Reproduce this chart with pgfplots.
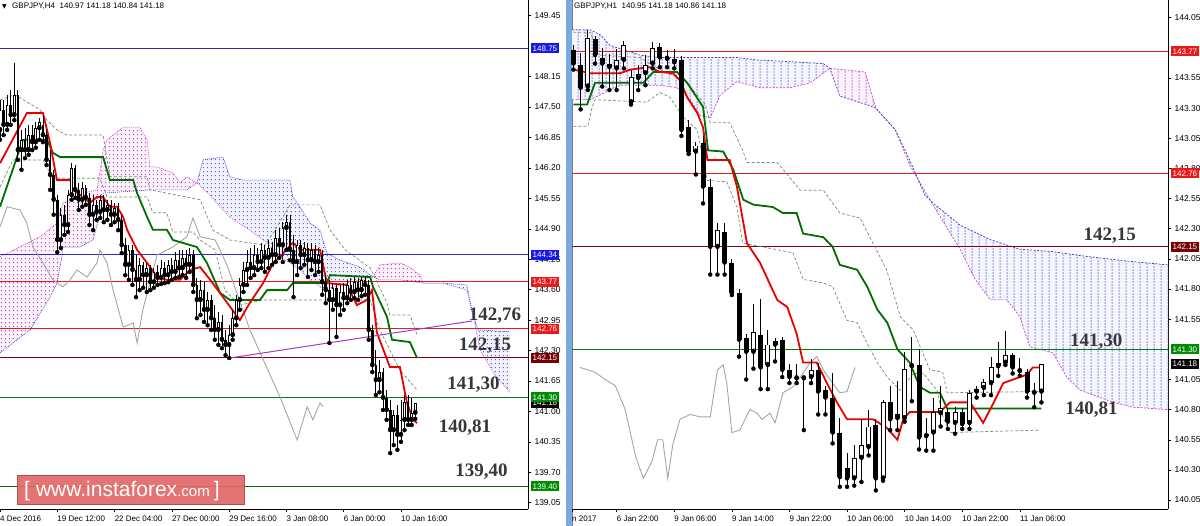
\documentclass[border=0pt]{standalone}
\usepackage{fontspec}
\setmainfont{Liberation Sans}
\newfontfamily\serifb{Liberation Serif}
\newfontfamily\dejavu{DejaVu Sans}
\usepackage{pgfplots}
\usepackage{pgfplotstable}
\pgfplotsset{compat=1.18}
\usetikzlibrary{patterns}

\definecolor{lvblue}{RGB}{50,40,190}
\definecolor{lvred}{RGB}{225,30,30}
\definecolor{lvdred}{RGB}{128,0,32}
\definecolor{lvgreen}{RGB}{0,128,0}
\definecolor{boxblue}{RGB}{25,25,230}
\definecolor{boxred}{RGB}{235,25,25}
\definecolor{boxdred}{RGB}{120,0,0}
\definecolor{boxgreen}{RGB}{0,140,0}
\definecolor{kumopink}{RGB}{200,70,200}
\definecolor{kumoblue}{RGB}{60,60,200}
\definecolor{kumodotb}{RGB}{95,95,235}
\definecolor{tenkan}{RGB}{235,0,0}
\definecolor{kijun}{RGB}{0,110,0}
\definecolor{chikou}{RGB}{165,165,165}
\definecolor{band}{RGB}{110,145,110}
\definecolor{trend}{RGB}{160,60,200}
\definecolor{annot}{RGB}{55,55,55}
\definecolor{sepblue}{RGB}{120,170,225}
\definecolor{wmred}{RGB}{226,104,104}

\pgfdeclarepatterninherentlycolored{ldotsP}{\pgfqpoint{0pt}{0pt}}{\pgfqpoint{3.6pt}{3.7pt}}{\pgfqpoint{3.6pt}{3.7pt}}{\pgfsetfillcolor{kumopink}\pgfpathrectangle{\pgfqpoint{1pt}{1pt}}{\pgfqpoint{1.05pt}{1.05pt}}\pgfusepath{fill}}
\pgfdeclarepatterninherentlycolored{ldotsB}{\pgfqpoint{0pt}{0pt}}{\pgfqpoint{3.6pt}{3.7pt}}{\pgfqpoint{3.6pt}{3.7pt}}{\pgfsetfillcolor{kumodotb}\pgfpathrectangle{\pgfqpoint{1pt}{1pt}}{\pgfqpoint{1.05pt}{1.05pt}}\pgfusepath{fill}}
\pgfdeclarepatterninherentlycolored{rdotsP}{\pgfqpoint{0pt}{0pt}}{\pgfqpoint{7.2pt}{3pt}}{\pgfqpoint{7.2pt}{3pt}}{\pgfsetfillcolor{kumopink}\pgfpathrectangle{\pgfqpoint{3pt}{0.5pt}}{\pgfqpoint{1.1pt}{1.6pt}}\pgfusepath{fill}}
\pgfdeclarepatterninherentlycolored{rdotsB}{\pgfqpoint{0pt}{0pt}}{\pgfqpoint{7.2pt}{3pt}}{\pgfqpoint{7.2pt}{3pt}}{\pgfsetfillcolor{kumodotb}\pgfpathrectangle{\pgfqpoint{3pt}{0.5pt}}{\pgfqpoint{1.1pt}{1.6pt}}\pgfusepath{fill}}

\tikzset{lbox/.style={anchor=west, xshift=2.5pt, text=white, font=\fontsize{8}{8}\selectfont, inner xsep=2pt, inner ysep=1.2pt, minimum height=10pt},
  annot/.style={anchor=base, font=\serifb\bfseries\fontsize{19}{19}\selectfont, text=annot, inner sep=0pt}}

\begin{document}
% ---------- left panel (H4) ----------
\pgfplotstableread{
b o h l c
0 147.01 147.65 146.80 147.44
1 147.44 147.65 146.90 147.12
2 147.12 147.76 147.01 147.54
3 147.54 147.86 147.12 147.33
4 147.33 148.44 147.22 147.76
5 147.76 147.86 146.37 146.58
6 146.58 147.01 146.16 146.80
7 146.80 147.05 146.41 146.58
8 146.58 147.12 146.48 146.90
9 146.90 147.12 146.58 146.75
10 146.75 147.18 146.63 147.05
11 147.05 147.27 146.80 147.18
12 147.12 147.31 146.75 146.90
13 146.90 147.01 146.26 146.37
14 146.37 146.58 145.73 146.05
15 146.05 146.16 145.20 145.52
16 145.52 145.62 144.40 144.66
17 144.66 145.34 144.49 145.20
18 145.20 145.41 144.77 144.98
19 144.98 145.73 144.83 145.62
20 145.62 146.30 145.52 146.20
21 146.20 146.26 145.56 145.73
22 145.73 145.88 145.30 145.52
23 145.52 145.90 145.37 145.77
24 145.77 145.84 145.41 145.56
25 145.56 145.66 144.98 145.20
26 145.20 145.62 144.87 145.41
27 145.41 145.52 145.09 145.26
28 145.26 145.62 145.13 145.52
29 145.52 145.62 145.04 145.30
30 145.30 145.52 145.09 145.41
31 145.41 145.52 144.98 145.20
32 145.20 145.45 145.04 145.34
33 145.34 145.45 144.87 145.09
34 145.09 145.20 144.38 144.55
35 144.55 144.70 143.91 144.13
36 144.13 144.55 143.81 144.45
37 144.45 144.55 143.70 144.02
38 144.02 144.34 143.44 143.81
39 143.81 144.28 143.59 144.13
40 144.13 144.19 143.64 143.91
41 143.91 144.17 143.55 144.06
42 144.06 144.13 143.59 143.76
43 143.76 144.06 143.64 143.98
44 143.98 144.13 143.70 143.85
45 143.85 144.23 143.72 144.06
46 144.06 144.19 143.74 143.91
47 143.91 144.23 143.76 144.13
48 144.13 144.28 143.81 143.98
49 143.98 144.40 143.85 144.23
50 144.23 144.45 143.87 144.06
51 144.06 144.45 143.91 144.28
52 144.28 144.45 143.85 144.13
53 144.13 144.49 143.98 144.34
54 144.34 144.45 143.55 143.70
55 143.70 143.85 142.99 143.38
56 143.38 143.81 143.06 143.59
57 143.59 143.76 142.91 143.17
58 143.17 143.55 142.84 143.38
59 143.38 143.49 142.74 142.99
60 142.99 143.27 142.53 142.74
61 142.74 143.12 142.42 142.91
62 142.91 143.06 142.35 142.53
63 142.53 142.74 142.20 142.42
64 142.42 142.84 142.14 142.63
65 142.63 143.17 142.53 142.99
66 142.99 143.49 142.84 143.38
67 143.38 143.85 143.17 143.70
68 143.70 144.19 143.55 144.02
69 144.02 144.45 143.70 144.19
70 144.19 144.49 143.85 144.06
71 144.06 144.55 143.91 144.34
72 144.34 144.49 144.02 144.19
73 144.19 144.60 144.06 144.45
74 144.45 144.55 143.98 144.28
75 144.28 144.66 144.06 144.49
76 144.49 144.62 144.13 144.34
77 144.34 144.87 144.19 144.70
78 144.70 144.92 144.28 144.55
79 144.55 145.04 144.19 144.92
80 144.92 145.20 144.45 145.04
81 145.04 145.20 144.23 144.45
82 144.45 144.77 143.44 144.19
83 144.19 144.66 143.91 144.55
84 144.55 144.66 144.06 144.34
85 144.34 144.62 144.13 144.49
86 144.49 144.60 143.87 144.23
87 144.23 144.60 144.02 144.45
88 144.45 144.55 143.91 144.19
89 144.19 144.49 143.98 144.34
90 144.34 144.45 143.49 143.76
91 143.76 143.91 143.31 143.59
92 143.59 143.81 142.46 143.38
93 143.38 143.74 143.17 143.64
94 143.64 143.70 142.59 143.27
95 143.27 143.70 143.06 143.55
96 143.55 143.74 143.17 143.42
97 143.42 143.81 143.31 143.70
98 143.70 143.85 143.38 143.55
99 143.55 143.87 143.42 143.76
100 143.76 143.85 143.38 143.59
101 143.59 143.87 143.46 143.81
102 143.81 143.89 143.49 143.70
103 143.70 143.81 142.53 142.74
104 142.74 142.84 141.84 141.99
105 141.99 142.31 141.35 141.67
106 141.67 142.10 141.41 141.84
107 141.84 141.93 141.03 141.29
108 141.29 141.46 140.82 141.03
109 141.03 141.24 140.11 140.60
110 140.60 141.03 140.28 140.92
111 140.92 141.14 140.18 140.50
112 140.50 141.24 140.35 140.82
113 140.82 141.35 140.60 141.20
114 141.20 141.35 140.71 140.82
115 140.82 141.29 140.71 140.97
116 140.97 141.18 140.84 141.18
}\LC

\pgfplotstableread{
b p
0 144.30
11.2 144.73
15.9 145.02
17.6 145.45
23.2 145.66
27.1 145.73
28.8 146.58
29.9 146.80
34.4 147.07
39.1 147.07
41.1 146.80
41.9 146.22
43.9 146.22
48.3 146.09
50.3 145.88
52.2 146.01
55 145.88
58.7 145.62
61.5 145.37
64.2 145.15
69.8 144.87
74.6 144.60
78.2 144.30
81 144.17
83.8 144.02
86.6 143.81
89.4 143.66
91.3 143.59
95 143.70
100.6 143.81
104.2 143.87
106.1 144.13
111.7 144.17
114.5 144.08
117.3 143.91
118.2 143.74
123.7 143.74
130.4 143.59
132.7 142.85
134.1 142.31
138.3 141.78
142.5 141.40
}\LA

\pgfplotstableread{
b p
0 142.25
8.4 142.74
14 143.44
15.9 143.74
17.3 144.30
17.6 144.51
22.3 144.51
26 144.66
27.9 145.20
28.8 145.66
41.9 145.73
52.2 145.73
55 145.88
56.7 146.37
62.3 146.43
64.2 146.01
67.9 145.94
81 145.94
81.8 145.58
83.8 145.37
86.6 145.02
89.4 144.87
91.3 144.38
95 144.23
100.6 144.08
104.2 143.87
106.1 143.81
111.7 143.81
118.2 143.74
123.7 143.74
130.4 143.70
131.8 143.17
133.5 142.74
142.5 142.70
}\LB

\pgfplotstableread{
b p
0 146.30
7.5 147.37
12 147.37
14 146.73
15.9 145.94
19.6 145.94
20.4 145.73
23.2 145.58
25.1 145.45
27.1 145.58
28.8 145.58
30.7 145.37
32.7 145.37
34.4 145.15
35.5 144.88
38.3 144.45
41.1 144.17
43.9 143.87
46.6 143.81
50.3 143.81
53.1 144.02
55.9 144.08
58.7 143.81
62.3 143.44
67 142.95
69.8 143.32
73.5 143.74
76.3 144.17
78.2 144.30
81.8 144.60
83.8 144.45
89.4 144.45
91.3 143.74
96.9 143.70
99.7 143.27
102.5 143.38
103.9 143.59
105.3 142.68
108.9 141.95
111.7 141.95
113.7 141.18
115.4 140.82
116.5 140.75
}\LT

\pgfplotstableread{
b p
0 145.37
6.4 146.80
13.1 146.80
14.8 146.52
16.8 146.43
28.8 146.43
30.7 145.94
37.2 145.94
38.3 145.66
41.1 145.15
42.7 144.88
46.6 144.88
48.3 144.66
55 144.51
57.8 144.17
61.5 143.53
64.2 143.38
72.6 143.38
74.6 143.59
80.2 143.59
81.8 143.74
91.3 143.74
92.2 143.91
103.4 143.87
104.2 143.66
108.1 143.02
109.5 142.53
114.5 142.48
116.5 142.14
}\LK

\pgfplotstableread{
b p
0 144.94
2 145.37
5.6 145.30
7.5 145.02
9.2 144.51
12 144.17
14.8 143.81
17.6 143.66
19.6 143.81
21.5 144.02
24.3 143.87
27.1 144.17
27.9 144.45
29.9 144.17
31.6 143.59
34.4 142.80
37.2 142.89
38.3 142.46
39.9 143.17
43.9 144.34
48.3 144.51
52.2 144.73
53.9 145.13
55.9 144.73
60.1 144.66
63.4 144.13
69.8 142.74
78.2 141.31
83 140.39
85.8 141.10
87.4 140.82
89.4 141.18
90.2 141.10
}\LCH

\pgfplotstableread{
b p
0 147.65
4.2 147.76
11.2 147.44
13.1 147.22
15.9 147.01
18.7 146.90
28.8 146.90
30.7 146.01
41.1 146.01
41.9 145.73
55.9 145.52
59.5 144.87
64.2 144.66
74 144.55
76.8 144.87
81 145.41
89.4 145.41
92.2 144.87
96.4 144.45
103.4 144.06
108.1 143.32
108.9 143.06
114.5 143.06
116.5 142.63
}\LU

\pgfplotstableread{
b p
0 145.79
3.6 146.37
12 146.37
14.8 145.98
27.9 145.98
29.9 145.58
41.1 145.58
42.7 145.24
46.6 145.24
48.3 144.83
53.9 144.83
55.9 144.66
60.1 144.45
62.8 143.59
67 143.27
73.5 143.38
103.4 143.38
106.1 142.74
111.7 141.88
116.5 141.46
}\LD

% ---------- right panel (H1) ----------
\pgfplotstableread{
b o h l c
0 143.78 143.82 143.62 143.67
1 143.66 143.76 143.29 143.47
2 143.48 143.95 143.45 143.88
3 143.87 143.90 143.67 143.74
4 143.72 143.80 143.48 143.67
5 143.67 143.75 143.45 143.64
6 143.63 143.79 143.45 143.70
7 143.70 143.86 143.63 143.82
8 143.35 143.62 143.33 143.56
9 143.55 143.66 143.45 143.58
10 143.59 143.74 143.49 143.66
11 143.67 143.85 143.63 143.80
12 143.81 143.84 143.64 143.72
13 143.72 143.78 143.64 143.71
14 143.71 143.79 143.63 143.68
15 143.70 143.73 143.07 143.12
16 143.14 143.20 142.92 142.94
17 142.94 143.02 142.75 142.99
18 143.01 143.07 142.51 142.65
19 142.65 142.71 141.92 142.15
20 142.15 142.35 141.92 142.29
21 142.27 142.35 141.92 142.02
22 142.02 142.05 141.75 141.77
23 141.77 141.80 141.24 141.38
24 141.39 141.43 141.05 141.28
25 141.28 141.68 141.14 141.44
26 141.42 141.72 140.97 141.15
27 141.17 141.46 140.97 141.34
28 141.34 141.39 141.20 141.37
29 141.38 141.40 141.07 141.13
30 141.13 141.18 141.02 141.07
31 141.07 141.18 141.02 141.06
32 141.07 141.08 140.63 141.06
33 141.07 141.22 141.02 141.13
34 141.13 141.19 140.76 140.95
35 140.96 141.00 140.76 140.90
36 140.90 141.10 140.52 140.61
37 140.61 140.73 140.16 140.24
38 140.32 140.44 140.16 140.23
39 140.23 140.51 140.17 140.40
40 140.40 140.72 140.20 140.51
41 140.49 140.80 140.42 140.66
42 140.67 140.72 140.13 140.23
43 140.23 140.88 140.21 140.86
44 140.86 141.00 140.63 140.72
45 140.73 141.04 140.63 140.76
46 140.73 141.28 140.70 141.14
47 141.17 141.40 140.87 141.16
48 141.17 141.30 140.47 140.57
49 140.58 140.73 140.46 140.60
50 140.61 140.90 140.46 140.78
51 140.77 141.00 140.66 140.81
52 140.78 140.81 140.64 140.70
53 140.69 140.82 140.60 140.78
54 140.78 140.81 140.64 140.68
55 140.69 140.96 140.64 140.94
56 140.95 141.00 140.90 140.97
57 140.98 141.05 140.92 141.03
58 141.02 141.24 140.92 141.15
59 141.16 141.36 141.08 141.19
60 141.19 141.45 141.17 141.25
61 141.25 141.27 141.10 141.15
62 141.13 141.23 141.08 141.12
63 141.11 141.14 140.90 140.95
64 140.95 141.02 140.82 140.94
65 140.95 141.18 140.86 141.18
}\RC

\pgfplotstableread{
b p
-0.2 143.37
2.3 143.37
3.7 143.41
6.5 143.49
12 143.49
14.4 143.47
16.2 143.37
17.6 143.24
19 143.22
20.4 143.41
22.7 143.52
25.9 143.47
30.1 143.47
32.9 143.51
35.6 143.63
40.5 143.60
42 143.30
44.7 143.12
46.7 142.83
49.5 142.54
53.7 142.13
55.8 141.88
57.9 141.71
60.2 141.71
62 141.57
63.4 141.32
66.6 141.27
68.5 141.07
70.4 140.96
75 140.86
77.7 140.82
82.58 140.80
}\RA

\pgfplotstableread{
b p
-0.2 143.95
2.3 143.95
3.7 143.91
5.1 143.82
7.2 143.78
9.2 143.74
12 143.72
14.4 143.72
22.7 143.72
25.5 143.70
34.7 143.67
35.6 143.63
37 143.40
41.2 143.32
42 143.30
44.7 143.12
46.7 142.87
48.8 142.58
50.2 142.50
53.7 142.33
57.9 142.21
62 142.13
66.6 142.11
71.3 142.07
77.3 142.03
82.58 142.00
}\RB

\pgfplotstableread{
b p
0 143.62
2.3 143.59
6.5 143.59
7.9 143.62
10.6 143.64
12 143.60
13.8 143.59
14.8 143.53
15.8 143.39
17.2 143.26
18 143.14
18.6 142.87
21.7 142.87
22.7 142.65
24.1 142.18
25.9 142.02
28.3 141.71
29.7 141.65
31 141.43
31.9 141.19
33.8 141.19
35.2 141.02
36.6 140.86
38 140.72
41.6 140.72
43.5 140.65
45 140.55
45.8 140.72
46.7 140.78
50.9 140.78
52.3 140.86
55.1 140.86
56.9 140.69
58.3 140.85
59.7 141.02
62 141.07
63 141.09
63.8 141.15
65 141.15
}\RT

\pgfplotstableread{
b p
0 143.33
1.9 143.33
3 143.51
9.7 143.51
11.1 143.60
14.4 143.60
15.8 143.51
18 143.31
18.7 142.95
20.8 142.94
22.2 142.79
23.6 142.54
25 142.50
27.7 142.48
29.1 142.43
31 142.43
31.9 142.26
34.7 142.23
36 142.15
37 142.00
39.4 141.96
40.8 141.82
42.2 141.63
43.6 141.52
45 141.30
46.7 141.19
48.1 140.99
49.5 140.94
50.9 140.94
51.9 140.81
65 140.81
}\RK

\pgfplotstableread{
b p
0 143.93
2.3 143.93
3.7 143.74
9.2 143.72
12 143.62
15.5 143.53
18.3 143.33
19 143.18
21.7 143.18
23.5 142.95
24.1 142.85
28.3 142.85
31.5 142.62
34.7 142.62
37 142.43
39.8 142.39
41.6 142.18
43.5 141.96
45.4 141.57
47.2 141.46
49.5 141.13
51.3 141.11
51.9 140.94
64.8 140.95
}\RU

\pgfplotstableread{
b p
0 143.15
2 143.15
2.6 143.31
3 143.37
10.2 143.35
12 143.43
13.4 143.39
15.2 143.23
17.2 143.12
18.6 142.70
21.3 142.69
22.7 142.48
23.5 142.18
26.3 142.15
30.5 142.10
31.9 141.88
34.7 141.85
36 141.82
38 141.54
39.4 141.52
40.8 141.35
42.2 141.19
43.6 141.07
45.4 140.96
47.2 141.10
48.6 141.10
50.5 140.96
51.3 140.74
52.3 140.61
64.8 140.63
}\RD

\pgfplotstableread{
b p
0.9 141.15
3 141.11
4.4 141.05
5.8 141.00
7.2 140.80
8.6 140.42
9.7 140.23
10.9 140.37
11.7 140.55
12.4 140.55
13.1 140.23
13.8 140.51
14.8 140.72
16.2 140.76
17.6 140.74
19 140.74
20 141.13
20.8 141.17
21.3 141.02
22 140.61
23.1 140.63
24.5 140.80
25.5 140.77
26.2 140.72
27.3 140.77
28 140.69
29.1 140.94
30.5 140.99
31.5 141.07
32.9 141.19
33.8 141.24
34.7 141.13
36 141.02
37 140.94
38 140.95
39.1 141.15
}\RCH

\begin{tikzpicture}

% ================= LEFT AXIS =================
\begin{axis}[
  at={(0pt,17pt)}, anchor=south west, scale only axis,
  width=528pt, height=509pt,
  xmin=0, xmax=147.49, ymin=138.916, ymax=149.785,
  axis x line*=bottom, axis y line*=right,
  axis line style={-, black, line width=0.6pt},
  xtick pos=left, ytick pos=right, yticklabel pos=right, xticklabel pos=left,
  tick align=outside, major tick length=3pt, tick style={black, line width=0.5pt},
  ytick={139.05,139.70,140.35,141.00,141.65,142.30,142.95,143.60,144.25,144.90,145.55,146.20,146.85,147.50,148.15,149.45},
  scaled y ticks=false,
  yticklabel style={font=\fontsize{8.5}{9}\selectfont, /pgf/number format/fixed, /pgf/number format/fixed zerofill, /pgf/number format/precision=2, /pgf/number format/assume math mode=true},
  xtick={0,16,32,48,64,80,96,112},
  xticklabels={4 Dec 2016,19 Dec 12:00,22 Dec 04:00,27 Dec 00:00,29 Dec 16:00,3 Jan 08:00,6 Jan 00:00,10 Jan 16:00},
  xticklabel style={font=\fontsize{8}{9}\selectfont, anchor=north west, inner xsep=0pt},
  clip=false,
]
% cloud (kumo) areas, each a closed polygon between Senkou A and Senkou B
\addplot[draw=none, fill=kumopink!7, forget plot] coordinates {
(0,144.30) (11.2,144.73) (15.9,145.02) (17.6,145.45) (23.2,145.66) (27.1,145.73) (28.8,146.58) (29.9,146.80) (34.4,147.07) (39.1,147.07) (41.1,146.80) (41.9,146.22) (43.9,146.22) (48.3,146.09) (50.3,145.88) (52.2,146.01) (55,145.88)
(52.2,145.73) (41.9,145.73) (28.8,145.66) (27.9,145.20) (26,144.66) (22.3,144.51) (17.6,144.51) (17.3,144.30) (15.9,143.74) (14,143.44) (8.4,142.74) (0,142.25) (0,144.30)};
\addplot[draw=none, pattern=ldotsP, forget plot] coordinates {
(0,144.30) (11.2,144.73) (15.9,145.02) (17.6,145.45) (23.2,145.66) (27.1,145.73) (28.8,146.58) (29.9,146.80) (34.4,147.07) (39.1,147.07) (41.1,146.80) (41.9,146.22) (43.9,146.22) (48.3,146.09) (50.3,145.88) (52.2,146.01) (55,145.88)
(52.2,145.73) (41.9,145.73) (28.8,145.66) (27.9,145.20) (26,144.66) (22.3,144.51) (17.6,144.51) (17.3,144.30) (15.9,143.74) (14,143.44) (8.4,142.74) (0,142.25) (0,144.30)};
\addplot[draw=none, fill=kumoblue!6, forget plot] coordinates {
(55,145.88) (58.7,145.62) (61.5,145.37) (64.2,145.15) (69.8,144.87) (74.6,144.60) (78.2,144.30) (81,144.17) (83.8,144.02) (86.6,143.81) (89.4,143.66) (91.3,143.59) (95,143.70) (100.6,143.81) (104.2,143.87)
(100.6,144.08) (95,144.23) (91.3,144.38) (89.4,144.87) (86.6,145.02) (83.8,145.37) (81.8,145.58) (81,145.94) (67.9,145.94) (64.2,146.01) (62.3,146.43) (56.7,146.37) (55,145.88)};
\addplot[draw=none, pattern=ldotsB, forget plot] coordinates {
(55,145.88) (58.7,145.62) (61.5,145.37) (64.2,145.15) (69.8,144.87) (74.6,144.60) (78.2,144.30) (81,144.17) (83.8,144.02) (86.6,143.81) (89.4,143.66) (91.3,143.59) (95,143.70) (100.6,143.81) (104.2,143.87)
(100.6,144.08) (95,144.23) (91.3,144.38) (89.4,144.87) (86.6,145.02) (83.8,145.37) (81.8,145.58) (81,145.94) (67.9,145.94) (64.2,146.01) (62.3,146.43) (56.7,146.37) (55,145.88)};
\addplot[draw=none, fill=kumopink!7, forget plot] coordinates {
(104.2,143.87) (106.1,144.13) (111.7,144.17) (114.5,144.08) (117.3,143.91) (118.2,143.74) (123.7,143.74)
(118.2,143.74) (111.7,143.81) (106.1,143.81) (104.2,143.87)};
\addplot[draw=none, pattern=ldotsP, forget plot] coordinates {
(104.2,143.87) (106.1,144.13) (111.7,144.17) (114.5,144.08) (117.3,143.91) (118.2,143.74) (123.7,143.74)
(118.2,143.74) (111.7,143.81) (106.1,143.81) (104.2,143.87)};
\addplot[draw=none, fill=kumoblue!6, forget plot] coordinates {
(123.7,143.74) (130.4,143.59) (132.7,142.85) (134.1,142.31) (138.3,141.78) (142.5,141.40)
(142.5,142.70) (133.5,142.74) (131.8,143.17) (130.4,143.70) (123.7,143.74)};
\addplot[draw=none, pattern=ldotsB, forget plot] coordinates {
(123.7,143.74) (130.4,143.59) (132.7,142.85) (134.1,142.31) (138.3,141.78) (142.5,141.40)
(142.5,142.70) (133.5,142.74) (131.8,143.17) (130.4,143.70) (123.7,143.74)};
\addplot[kumopink, line width=0.6pt, dash pattern=on 1pt off 1pt, forget plot] table[x=b,y=p]{\LA};
\addplot[kumoblue, line width=0.6pt, dash pattern=on 1pt off 1pt, forget plot] table[x=b,y=p]{\LB};
% levels
\addplot[lvblue, line width=1pt] coordinates {(0,148.75) (147.49,148.75)};
\addplot[lvblue, line width=1pt] coordinates {(0,144.34) (147.49,144.34)};
\addplot[lvred, line width=1pt] coordinates {(0,143.77) (147.49,143.77)};
\addplot[lvred, line width=1pt] coordinates {(0,142.76) (147.49,142.76)};
\addplot[lvdred, line width=1pt] coordinates {(0,142.15) (147.49,142.15)};
\addplot[lvgreen, line width=1pt] coordinates {(0,141.30) (147.49,141.30)};
\addplot[lvgreen!80!black, line width=1pt] coordinates {(0,139.40) (147.49,139.40)};
% indicator lines
\addplot[band, line width=0.7pt, dash pattern=on 3pt off 2pt] table[x=b,y=p]{\LU};
\addplot[band, line width=0.7pt, dash pattern=on 3pt off 2pt] table[x=b,y=p]{\LD};
\addplot[chikou, line width=0.9pt] table[x=b,y=p]{\LCH};
\addplot[kijun, line width=1.8pt] table[x=b,y=p]{\LK};
\addplot[tenkan, line width=1.8pt] table[x=b,y=p]{\LT};
\addplot[trend, line width=1pt] coordinates {(64.2,142.14) (131.8,142.93)};
% candles
\addplot[only marks, mark=none, forget plot, error bars/.cd, y dir=plus, y explicit, error mark=none, error bar style={black, line width=0.9pt, solid}]
  table[x=b, y=l, y error plus expr={\thisrow{h}-\thisrow{l}}]{\LC};
\addplot[only marks, mark=none, forget plot, error bars/.cd, y dir=plus, y explicit, error mark=none, error bar style={black, line width=2.6pt, solid}]
  table[x=b, y expr={min(\thisrow{o},\thisrow{c})}, y error plus expr={max(abs(\thisrow{c}-\thisrow{o}),0.022)}]{\LC};
\addplot[only marks, mark=none, forget plot, error bars/.cd, y dir=plus, y explicit, error mark=none, error bar style={white, line width=1.0pt, solid}]
  table[x=b, y expr={min(\thisrow{o},\thisrow{c})+0.017}, y error plus expr={(\thisrow{c}>\thisrow{o})*max(abs(\thisrow{c}-\thisrow{o})-0.034,0)}]{\LC};
% annotations
\node[annot] at (axis cs:138.3,142.95) {142,76};
\node[annot] at (axis cs:135.5,142.31) {142,15};
\node[annot] at (axis cs:132.3,141.46) {141,30};
\node[annot] at (axis cs:129.9,140.56) {140,81};
\node[annot] at (axis cs:134.5,139.60) {139,40};
% price boxes
\node[lbox, fill=boxblue] at (axis cs:147.49,148.75) {148.75};
\node[lbox, fill=boxblue] at (axis cs:147.49,144.34) {144.34};
\node[lbox, fill=boxred] at (axis cs:147.49,143.77) {143.77};
\node[lbox, fill=boxred] at (axis cs:147.49,142.76) {142.76};
\node[lbox, fill=boxdred] at (axis cs:147.49,142.15) {142.15};
\node[lbox, fill=black] at (axis cs:147.49,141.18) {141.18};
\node[lbox, fill=boxgreen] at (axis cs:147.49,141.30) {141.30};
\node[lbox, fill=boxgreen] at (axis cs:147.49,139.40) {139.40};
\end{axis}

% separator
\fill[sepblue] (566pt,0pt) rectangle (571.5pt,526pt);
\draw[gray, line width=0.6pt] (572pt,0pt) -- (572pt,526pt);

% ================= RIGHT AXIS =================
\begin{axis}[
  at={(572pt,17pt)}, anchor=south west, scale only axis,
  width=596pt, height=509pt,
  xmin=-0.2, xmax=82.58, ymin=139.976, ymax=144.197,
  axis x line*=bottom, axis y line*=right,
  axis line style={-, black, line width=0.6pt},
  xtick pos=left, ytick pos=right, yticklabel pos=right, xticklabel pos=left,
  tick align=outside, major tick length=3pt, tick style={black, line width=0.5pt},
  ytick={140.05,140.30,140.55,140.80,141.05,141.55,141.80,142.05,142.30,142.55,142.80,143.05,143.30,143.55,144.05},
  scaled y ticks=false,
  yticklabel style={font=\fontsize{8.5}{9}\selectfont, /pgf/number format/fixed, /pgf/number format/fixed zerofill, /pgf/number format/precision=2, /pgf/number format/assume math mode=true},
  xtick={-0.2,6,14,22,30,38,46,54,62},
  xticklabels={n 2017,6 Jan 22:00,9 Jan 06:00,9 Jan 14:00,9 Jan 22:00,10 Jan 06:00,10 Jan 14:00,10 Jan 22:00,11 Jan 06:00},
  xticklabel style={font=\fontsize{8}{9}\selectfont, anchor=north west, inner xsep=0pt},
  clip=false,
]
\addplot[draw=none, fill=kumoblue!5, forget plot] coordinates {
(-0.2,143.37) (2.3,143.37) (3.7,143.41) (6.5,143.49) (12,143.49) (14.4,143.47) (16.2,143.37) (17.6,143.24) (19,143.22) (20.4,143.41) (22.7,143.52) (25.9,143.47) (30.1,143.47) (32.9,143.51) (35.6,143.63)
(34.7,143.67) (25.5,143.70) (22.7,143.72) (14.4,143.72) (12,143.72) (9.2,143.74) (7.2,143.78) (5.1,143.82) (3.7,143.91) (2.3,143.95) (-0.2,143.95) (-0.2,143.37)};
\addplot[draw=none, pattern=rdotsB, forget plot] coordinates {
(-0.2,143.37) (2.3,143.37) (3.7,143.41) (6.5,143.49) (12,143.49) (14.4,143.47) (16.2,143.37) (17.6,143.24) (19,143.22) (20.4,143.41) (22.7,143.52) (25.9,143.47) (30.1,143.47) (32.9,143.51) (35.6,143.63)
(34.7,143.67) (25.5,143.70) (22.7,143.72) (14.4,143.72) (12,143.72) (9.2,143.74) (7.2,143.78) (5.1,143.82) (3.7,143.91) (2.3,143.95) (-0.2,143.95) (-0.2,143.37)};
\addplot[draw=none, fill=kumopink!7, forget plot] coordinates {
(35.6,143.63) (40.5,143.60) (42,143.30) (44.7,143.12) (42,143.30) (41.2,143.32) (37,143.40) (35.6,143.63)};
\addplot[draw=none, pattern=rdotsP, forget plot] coordinates {
(35.6,143.63) (40.5,143.60) (42,143.30) (44.7,143.12) (42,143.30) (41.2,143.32) (37,143.40) (35.6,143.63)};
\addplot[draw=none, fill=kumoblue!5, forget plot] coordinates {
(44.7,143.12) (46.7,142.83) (49.5,142.54) (53.7,142.13) (55.8,141.88) (57.9,141.71) (60.2,141.71) (62,141.57) (63.4,141.32) (66.6,141.27) (68.5,141.07) (70.4,140.96) (75,140.86) (77.7,140.82) (82.58,140.80)
(82.58,142.00) (77.3,142.03) (71.3,142.07) (66.6,142.11) (62,142.13) (57.9,142.21) (53.7,142.33) (50.2,142.50) (48.8,142.58) (46.7,142.87) (44.7,143.12)};
\addplot[draw=none, pattern=rdotsB, forget plot] coordinates {
(44.7,143.12) (46.7,142.83) (49.5,142.54) (53.7,142.13) (55.8,141.88) (57.9,141.71) (60.2,141.71) (62,141.57) (63.4,141.32) (66.6,141.27) (68.5,141.07) (70.4,140.96) (75,140.86) (77.7,140.82) (82.58,140.80)
(82.58,142.00) (77.3,142.03) (71.3,142.07) (66.6,142.11) (62,142.13) (57.9,142.21) (53.7,142.33) (50.2,142.50) (48.8,142.58) (46.7,142.87) (44.7,143.12)};
\addplot[kumopink, line width=0.7pt, dash pattern=on 2pt off 1.5pt, forget plot] table[x=b,y=p]{\RA};
\addplot[kumoblue, line width=0.7pt, dash pattern=on 2pt off 1.5pt, forget plot] table[x=b,y=p]{\RB};
% levels
\addplot[lvred, line width=1pt] coordinates {(-0.2,143.77) (82.58,143.77)};
\addplot[lvred, line width=1pt] coordinates {(-0.2,142.76) (82.58,142.76)};
\addplot[lvdred, line width=1pt] coordinates {(-0.2,142.15) (82.58,142.15)};
\addplot[lvgreen, line width=1pt] coordinates {(-0.2,141.30) (82.58,141.30)};
% indicator lines
\addplot[band, line width=0.7pt, dash pattern=on 3pt off 2pt] table[x=b,y=p]{\RU};
\addplot[band, line width=0.7pt, dash pattern=on 3pt off 2pt] table[x=b,y=p]{\RD};
\addplot[chikou, line width=0.9pt] table[x=b,y=p]{\RCH};
\addplot[kijun, line width=1.8pt] table[x=b,y=p]{\RK};
\addplot[tenkan, line width=1.8pt] table[x=b,y=p]{\RT};
% candles
\addplot[only marks, mark=none, forget plot, error bars/.cd, y dir=plus, y explicit, error mark=none, error bar style={black, line width=1pt, solid}]
  table[x=b, y=l, y error plus expr={\thisrow{h}-\thisrow{l}}]{\RC};
\addplot[only marks, mark=none, forget plot, error bars/.cd, y dir=plus, y explicit, error mark=none, error bar style={black, line width=5pt, solid}]
  table[x=b, y expr={min(\thisrow{o},\thisrow{c})}, y error plus expr={max(abs(\thisrow{c}-\thisrow{o}),0.009)}]{\RC};
\addplot[only marks, mark=none, forget plot, error bars/.cd, y dir=plus, y explicit, error mark=none, error bar style={white, line width=3pt, solid}]
  table[x=b, y expr={min(\thisrow{o},\thisrow{c})+0.0075}, y error plus expr={(\thisrow{c}>\thisrow{o})*max(abs(\thisrow{c}-\thisrow{o})-0.015,0)}]{\RC};
% annotations
\node[annot] at (axis cs:74.5,142.20) {142,15};
\node[annot] at (axis cs:72.6,141.32) {141,30};
\node[annot] at (axis cs:71.95,140.756) {140,81};
% price boxes
\node[lbox, fill=boxred] at (axis cs:82.58,143.77) {143.77};
\node[lbox, fill=boxred] at (axis cs:82.58,142.76) {142.76};
\node[lbox, fill=boxdred] at (axis cs:82.58,142.15) {142.15};
\node[lbox, fill=boxgreen] at (axis cs:82.58,141.30) {141.30};
\node[lbox, fill=black] at (axis cs:82.58,141.18) {141.18};
\end{axis}

% titles
\node[anchor=base west, inner sep=0, font=\dejavu\fontsize{6}{7}\selectfont] at (2pt,517.5pt) {▼};
\node[anchor=base west, inner sep=0, font=\fontsize{8}{9}\selectfont] at (12pt,517pt) {GBPJPY,H4\ \ 140.97 141.18 140.84 141.18};
\node[anchor=base west, inner sep=0, font=\fontsize{8}{9}\selectfont] at (574pt,517pt) {GBPJPY,H1\ \ 140.95 141.18 140.86 141.18};

% watermark
\fill[wmred, opacity=0.92] (17pt,22pt) rectangle (244pt,51pt);
\draw[wmred!75!black, line width=0.6pt] (17pt,22pt) rectangle (244pt,51pt);
\node[anchor=base west, inner sep=0, text=white] at (24pt,29pt) {\fontsize{21}{21}\selectfont [\hspace{6pt}www.instaforex\fontsize{15}{15}\selectfont .com\fontsize{21}{21}\selectfont\hspace{4pt}]};

\pgfresetboundingbox
\useasboundingbox (0,0) rectangle (1200pt,526pt);
\end{tikzpicture}
\end{document}
